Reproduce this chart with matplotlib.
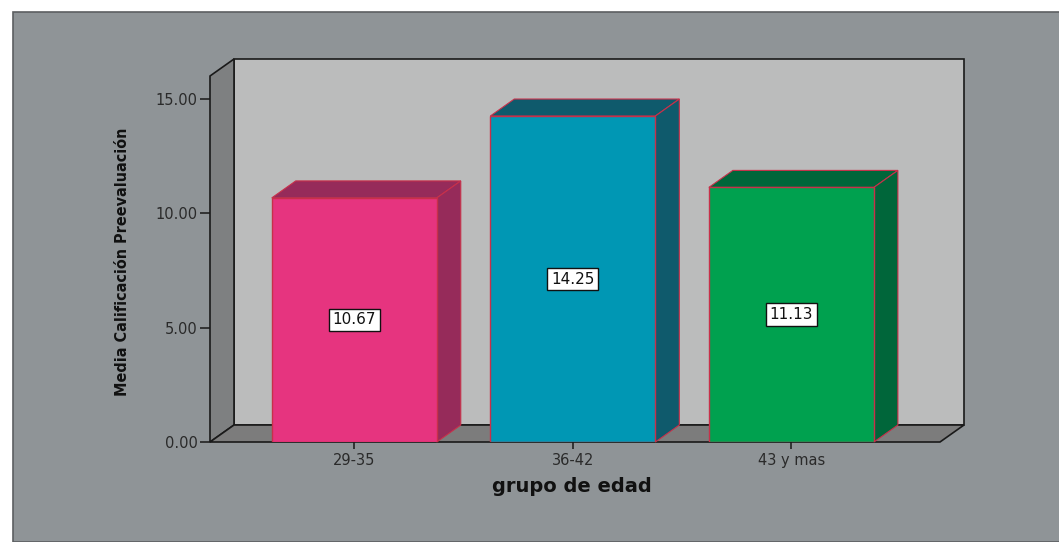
import matplotlib
matplotlib.use("Agg")
import matplotlib.pyplot as plt
from matplotlib.patches import Rectangle, Polygon

# data
grupos = ["29-35", "36-42", "43 y mas"]
medias = [10.67, 14.25, 11.13]
yticks = [0, 5, 10, 15]

front_cols = ["#e6347f", "#0097b4", "#00a14f"]
dark_cols = ["#962b5a", "#0f5a6c", "#00663a"]

W, H = 1059, 542
fig = plt.figure(figsize=(W / 100, H / 100), dpi=100)
fig.patch.set_facecolor("white")

# gray panel behind the chart
fig.patches.append(Rectangle((13 / W, 0), 1, (H - 12) / H, transform=fig.transFigure,
                             facecolor="#8f9497", edgecolor="#5c5f61", linewidth=1.2, zorder=-10))

left, right, bot, top = 210, 940, 442, 76
ax = fig.add_axes([left / W, (H - bot) / H, (right - left) / W, (bot - top) / H])
ax.set_facecolor("none")
ax.set_zorder(5)

xmin, xmax = -0.66, 2.68
ymin, ymax = 0, 16
ax.set_xlim(xmin, xmax)
ax.set_ylim(ymin, ymax)

# depth offset of the fake 3d box
dx = 24 / ((right - left) / (xmax - xmin))
dy = 17 / ((bot - top) / (ymax - ymin))

kw = dict(clip_on=False, linewidth=1.2, edgecolor="#1a1a1a")
# back wall
ax.add_patch(Polygon([(xmin + dx, dy), (xmax + dx, dy), (xmax + dx, ymax + dy), (xmin + dx, ymax + dy)],
                     facecolor="#bbbcbc", zorder=1, **kw))
# left wall
ax.add_patch(Polygon([(xmin, 0), (xmin + dx, dy), (xmin + dx, ymax + dy), (xmin, ymax)],
                     facecolor="#7e8081", zorder=2, **kw))
# floor
ax.add_patch(Polygon([(xmin, 0), (xmax, 0), (xmax + dx, dy), (xmin + dx, dy)],
                     facecolor="#7c7c7c", zorder=2, **kw))

bw = 0.755
xs = range(len(grupos))
ax.bar(xs, medias, width=bw, color=front_cols, edgecolor="#c8304a", linewidth=1.0, zorder=5)
for x, v, dc in zip(xs, medias, dark_cols):
    x0, x1 = x - bw / 2, x + bw / 2
    ax.add_patch(Polygon([(x0, v), (x1, v), (x1 + dx, v + dy), (x0 + dx, v + dy)],
                         facecolor=dc, edgecolor="#c8304a", linewidth=0.8, zorder=4, clip_on=False))
    ax.add_patch(Polygon([(x1, 0), (x1 + dx, dy), (x1 + dx, v + dy), (x1, v)],
                         facecolor=dc, edgecolor="#c8304a", linewidth=0.8, zorder=4, clip_on=False))
    ax.text(x, v / 2, "%.2f" % v, ha="center", va="center", fontsize=11, color="#111111", zorder=6,
            bbox=dict(boxstyle="square,pad=0.25", facecolor="white", edgecolor="#111111", linewidth=1))

for s in ax.spines.values():
    s.set_visible(False)

ax.set_yticks(yticks)
ax.set_yticklabels(["%.2f" % t for t in yticks])
ax.set_xticks(list(xs))
ax.set_xticklabels(grupos)
ax.tick_params(axis="y", length=7, width=1.2, color="#222222", labelsize=10.5, labelcolor="#2a2a2a", pad=2)
ax.tick_params(axis="x", length=5, width=1.2, color="#222222", labelsize=10.5, labelcolor="#2a2a2a", pad=3)

fig.text(123 / W, 1 - 262 / H, "Media Calificación Preevaluación", rotation=90, ha="center", va="center",
         fontsize=11.5, fontweight="bold", fontstretch="condensed", color="#111111",
         family=["Liberation Sans Narrow", "DejaVu Sans"])
fig.text(572 / W, 1 - 486 / H, "grupo de edad", ha="center", va="center",
         fontsize=14, fontweight="bold", color="#111111")

fig.savefig("out.png", dpi=100, facecolor=fig.get_facecolor())
